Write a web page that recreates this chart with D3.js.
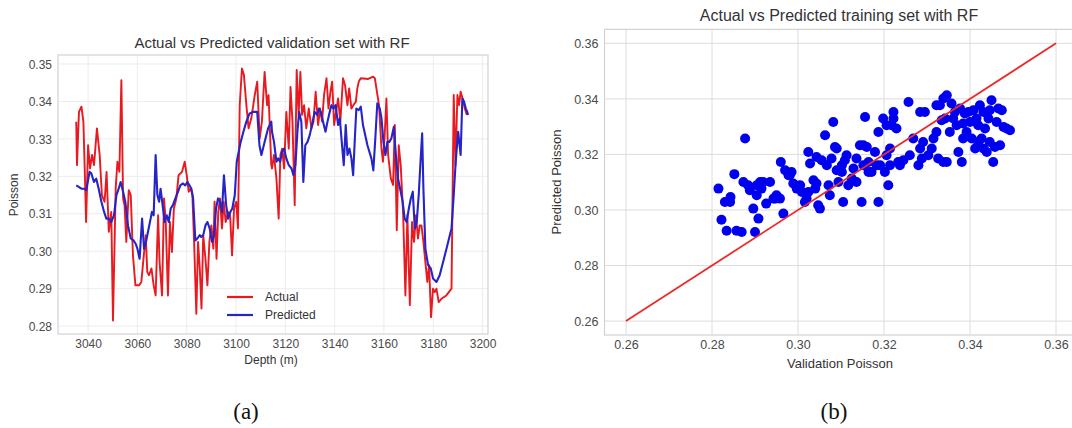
<!DOCTYPE html>
<html>
<head>
<meta charset="utf-8">
<script src="https://cdn.jsdelivr.net/npm/d3@7"></script>
<style>
  body { margin: 0; background: #fff; }
  svg { display: block; font-family: "Liberation Sans", Arial, sans-serif; }
</style>
</head>
<body>
<svg id="fig" width="1072" height="428"></svg>
<script>
// (a) validation set, actual vs predicted along depth
const actualDepth = [3035.2,3035.5,3036.3,3037.3,3038.1,3038.6,3039.2,3040.0,3040.8,3041.6,3042.4,3043.6,3044.7,3045.6,3046.7,3047.5,3048.4,3049.4,3050.1,3051.2,3051.9,3052.7,3053.5,3054.2,3054.8,3055.5,3056.5,3057.3,3058.2,3059.2,3060.7,3061.6,3062.6,3063.4,3064.0,3064.7,3065.7,3066.6,3067.4,3068.4,3069.0,3070.0,3070.8,3071.5,3072.4,3073.2,3074.0,3074.8,3075.8,3076.7,3078.1,3079.2,3080.0,3080.8,3081.6,3082.3,3083.0,3083.9,3084.6,3085.3,3086.0,3086.7,3087.6,3088.4,3089.2,3090.0,3090.8,3091.3,3092.1,3092.8,3093.5,3094.3,3095.0,3095.8,3096.8,3097.6,3098.4,3099.2,3100.1,3100.8,3101.5,3102.4,3103.2,3104.2,3105.1,3106.2,3107.6,3108.6,3109.6,3110.5,3111.6,3112.6,3113.2,3114.3,3114.6,3115.4,3116.4,3117.3,3118.0,3118.7,3119.5,3120.4,3121.4,3122.1,3122.9,3123.8,3124.6,3125.4,3126.1,3126.8,3127.6,3128.5,3129.5,3130.6,3131.4,3132.3,3133.3,3134.1,3134.9,3135.7,3136.7,3137.5,3138.3,3139.0,3139.8,3140.4,3141.4,3142.3,3143.4,3144.2,3145.2,3145.9,3146.8,3147.6,3148.6,3149.2,3149.8,3150.6,3153.6,3155.6,3156.3,3158.0,3159.0,3159.6,3160.3,3161.0,3161.7,3162.8,3163.7,3164.4,3165.2,3166.0,3166.8,3167.8,3168.7,3169.5,3170.5,3171.4,3172.2,3173.0,3173.8,3174.5,3175.2,3176.0,3176.8,3177.6,3178.3,3179.1,3179.9,3180.6,3181.3,3182.2,3183.3,3185.3,3187.4,3188.3,3189.0,3189.8,3190.5,3191.1,3191.9,3192.8,3193.6];
const actualPoisson = [0.3346,0.3230,0.3372,0.3386,0.3346,0.3230,0.3078,0.3283,0.3221,0.3257,0.3230,0.3328,0.3257,0.3150,0.3132,0.3212,0.3052,0.3105,0.2815,0.3168,0.3239,0.3212,0.3457,0.3141,0.3123,0.3025,0.3163,0.3150,0.2989,0.2909,0.2909,0.2918,0.2989,0.3043,0.2945,0.2936,0.2954,0.2909,0.2882,0.3096,0.2971,0.2882,0.3141,0.3078,0.2882,0.3078,0.2998,0.3114,0.3141,0.3203,0.3212,0.3239,0.3203,0.3159,0.3168,0.3150,0.3025,0.2833,0.3025,0.2954,0.2847,0.3043,0.2980,0.2909,0.3025,0.3069,0.3007,0.3132,0.2980,0.3105,0.3141,0.3061,0.3132,0.3078,0.3105,0.3096,0.2989,0.3114,0.3132,0.3061,0.3390,0.3488,0.3471,0.3390,0.3328,0.3355,0.3417,0.3453,0.3301,0.3346,0.3479,0.3390,0.3417,0.3230,0.3221,0.3257,0.3194,0.3087,0.3257,0.3274,0.3221,0.3372,0.3274,0.3439,0.3346,0.3123,0.3484,0.3364,0.3479,0.3364,0.3390,0.3328,0.3381,0.3328,0.3346,0.3426,0.3337,0.3381,0.3346,0.3417,0.3462,0.3381,0.3426,0.3453,0.3337,0.3364,0.3408,0.3346,0.3462,0.3444,0.3390,0.3435,0.3381,0.3390,0.3399,0.3435,0.3453,0.3462,0.3460,0.3466,0.3462,0.3390,0.3274,0.3239,0.3310,0.3408,0.3257,0.3194,0.3177,0.3337,0.3056,0.3283,0.3230,0.3096,0.2882,0.3096,0.2856,0.3078,0.3025,0.3096,0.3034,0.3069,0.3069,0.3025,0.2971,0.2918,0.2963,0.2824,0.2900,0.2891,0.2900,0.2864,0.2873,0.2882,0.2900,0.3417,0.3230,0.3417,0.3390,0.3426,0.3408,0.3381,0.3364];

const predDepth = [3035.2,3036.2,3037.3,3038.3,3039.3,3040.6,3041.3,3042.4,3043.3,3044.3,3045.4,3046.5,3047.4,3048.4,3049.4,3050.5,3051.5,3052.4,3053.2,3054.2,3055.1,3056.2,3057.3,3058.4,3059.3,3060.0,3060.9,3061.9,3062.7,3063.5,3064.3,3065.1,3065.9,3066.6,3067.4,3068.1,3068.8,3069.4,3070.4,3071.1,3071.9,3072.7,3073.5,3074.4,3075.4,3076.5,3077.4,3078.5,3079.4,3080.3,3081.1,3081.9,3082.6,3083.5,3084.3,3085.3,3085.9,3086.7,3087.6,3088.4,3089.3,3090.3,3091.1,3091.9,3092.7,3093.5,3094.3,3095.1,3096.0,3096.8,3097.7,3098.5,3099.5,3100.3,3101.1,3101.9,3103.0,3104.2,3105.5,3106.9,3108.6,3109.5,3110.3,3111.6,3113.0,3114.3,3114.6,3115.4,3116.4,3117.1,3117.9,3118.7,3119.5,3120.4,3121.4,3122.5,3123.3,3124.1,3124.9,3125.6,3126.5,3127.3,3128.1,3129.0,3129.9,3130.8,3131.9,3132.9,3133.6,3134.4,3135.3,3136.3,3137.1,3138.0,3138.7,3139.5,3140.4,3141.4,3142.1,3143.0,3143.7,3144.5,3145.2,3146.0,3146.8,3147.5,3148.2,3148.8,3149.8,3150.6,3151.5,3153.3,3154.9,3155.7,3156.5,3157.3,3158.3,3159.0,3159.8,3160.6,3161.4,3162.2,3163.0,3164.0,3164.6,3165.7,3166.8,3167.6,3168.4,3169.2,3170.1,3170.9,3171.7,3172.5,3173.3,3174.1,3174.9,3175.5,3176.0,3176.8,3177.9,3179.0,3179.9,3181.3,3182.6,3184.7,3187.4,3188.3,3189.1,3190.1,3191.1,3191.8,3192.5,3193.2,3193.8,3194.1];
const predPoisson = [0.3176,0.3172,0.3167,0.3167,0.3163,0.3212,0.3208,0.3185,0.3194,0.3167,0.3132,0.3105,0.3087,0.3087,0.3078,0.3096,0.3150,0.3167,0.3185,0.3159,0.3132,0.3069,0.3034,0.3029,0.3020,0.3007,0.2980,0.3087,0.3007,0.3025,0.3052,0.3078,0.3105,0.3096,0.3257,0.3150,0.3132,0.3167,0.3114,0.3078,0.3096,0.3078,0.3114,0.3123,0.3141,0.3159,0.3176,0.3181,0.3176,0.3185,0.3176,0.3167,0.3141,0.3029,0.3034,0.3043,0.3038,0.3043,0.3069,0.3078,0.3061,0.3025,0.3043,0.3114,0.3141,0.3132,0.3105,0.3203,0.3123,0.3087,0.3105,0.3114,0.3150,0.3239,0.3266,0.3292,0.3319,0.3346,0.3368,0.3372,0.3372,0.3283,0.3257,0.3292,0.3328,0.3346,0.3319,0.3292,0.3239,0.3248,0.3239,0.3266,0.3274,0.3248,0.3230,0.3221,0.3203,0.3230,0.3319,0.3372,0.3346,0.3185,0.3283,0.3292,0.3310,0.3337,0.3372,0.3364,0.3381,0.3372,0.3346,0.3319,0.3346,0.3372,0.3390,0.3381,0.3390,0.3337,0.3355,0.3283,0.3230,0.3337,0.3257,0.3274,0.3248,0.3203,0.3301,0.3381,0.3377,0.3386,0.3337,0.3283,0.3248,0.3216,0.3301,0.3395,0.3381,0.3355,0.3292,0.3257,0.3292,0.3292,0.3301,0.3332,0.3274,0.3194,0.3159,0.3132,0.3087,0.3078,0.3114,0.3141,0.3159,0.3061,0.3078,0.3150,0.3248,0.3315,0.3168,0.3007,0.2963,0.2954,0.2927,0.2918,0.2936,0.2989,0.3061,0.3150,0.3239,0.3319,0.3257,0.3408,0.3399,0.3381,0.3372,0.3364];

const depthTicks = [3040, 3060, 3080, 3100, 3120, 3140, 3160, 3180, 3200];
const poissonTicksA = [0.28, 0.29, 0.30, 0.31, 0.32, 0.33, 0.34, 0.35];

// (b) scatter of validation vs predicted
const validationX = [0.2815,0.2822,0.2834,0.2830,0.2843,0.2852,0.2857,0.2869,0.2877,0.2873,0.2884,0.2900,0.2896,0.2904,0.2908,0.2912,0.2919,0.2926,0.2935,0.2947,0.2958,0.2960,0.2966,0.2970,0.2978,0.2985,0.2989,0.2997,0.3009,0.3016,0.3020,0.3024,0.3028,0.3036,0.3040,0.3047,0.3051,0.3043,0.3055,0.3063,0.3067,0.3071,0.3074,0.3078,0.3082,0.3086,0.3090,0.3094,0.3102,0.3105,0.3109,0.3113,0.3117,0.3125,0.3129,0.3136,0.3144,0.3148,0.3152,0.3156,0.3160,0.3164,0.3171,0.3179,0.3187,0.3187,0.3191,0.3198,0.3202,0.3206,0.3210,0.3214,0.3218,0.3222,0.3229,0.3233,0.3237,0.3245,0.3257,0.3260,0.3268,0.3280,0.3284,0.3288,0.3291,0.3295,0.3303,0.3311,0.3315,0.3322,0.3326,0.3330,0.3334,0.3338,0.3342,0.3346,0.3346,0.3353,0.3357,0.3361,0.3369,0.3373,0.3377,0.3381,0.3384,0.3388,0.3392,0.3400,0.3404,0.3408,0.3412,0.3415,0.3419,0.3423,0.3431,0.3435,0.3439,0.3443,0.3446,0.3450,0.3454,0.3458,0.3462,0.3466,0.3470,0.3474,0.3478,0.3485,0.3493,0.3446,0.3427,0.3338,0.3322,0.3396,0.3384,0.3102,0.3136,0.3024,0.3005,0.2950,0.2915,0.2888,0.2842,0.2904,0.3206,0.3222,0.3284,0.3152,0.3090,0.2981,0.3043,0.2943,0.3214,0.3183,0.3164,0.3431,0.3419,0.3365];
const predictedY = [0.3077,0.2965,0.2925,0.3029,0.3047,0.3129,0.2925,0.2921,0.3257,0.3101,0.3089,0.2921,0.3005,0.3053,0.2969,0.3101,0.3101,0.3023,0.3101,0.3041,0.3041,0.3173,0.2987,0.3143,0.3125,0.3137,0.3095,0.3077,0.3065,0.3029,0.3041,0.3209,0.3167,0.3107,0.3077,0.3017,0.3005,0.3191,0.3179,0.3269,0.3161,0.3089,0.3053,0.3185,0.3317,0.3227,0.3143,0.3101,0.3137,0.3029,0.3179,0.3197,0.3089,0.3113,0.3149,0.3101,0.3233,0.3029,0.3161,0.3335,0.3227,0.3173,0.3137,0.3209,0.3029,0.3281,0.3161,0.3329,0.3137,0.3197,0.3089,0.3221,0.3305,0.3353,0.3293,0.3173,0.3161,0.3179,0.3389,0.3197,0.3257,0.3161,0.3221,0.3185,0.3245,0.3353,0.3197,0.3221,0.3257,0.3281,0.3185,0.3377,0.3323,0.3173,0.3329,0.3413,0.3173,0.3281,0.3383,0.3329,0.3305,0.3209,0.3365,0.3173,0.3257,0.3347,0.3281,0.3317,0.3257,0.3359,0.3221,0.3329,0.3245,0.3377,0.3353,0.3293,0.3209,0.3329,0.3245,0.3395,0.3173,0.3227,0.3317,0.3365,0.3233,0.3359,0.3299,0.3293,0.3287,0.3359,0.3257,0.3401,0.3377,0.3353,0.3311,0.3161,0.3185,0.3065,0.3089,0.3053,0.3077,0.3071,0.3029,0.3089,0.3305,0.3329,0.3353,0.3233,0.3221,0.3125,0.3095,0.3041,0.3161,0.3161,0.3137,0.3221,0.3305,0.3353];
const identityLine = [0.26, 0.36];
const poissonTicksB = [0.26, 0.28, 0.30, 0.32, 0.34, 0.36];

const svg = d3.select("#fig");
svg.append("rect").attr("width", 1072).attr("height", 428).attr("fill", "#fff");

const tickColor = "#4a4a4a";
const frameColor = "#d2d2d2";

function drawFrame(g, x, y, xTicks, yTicks, fmtX, fmtY, grid, fs) {
    let [x0, x1] = x.range();
    let [y0, y1] = y.range();
    g.append("g").selectAll("line").data(xTicks).join("line")
        .attr("x1", d => x(d)).attr("x2", d => x(d))
        .attr("y1", y1).attr("y2", y0)
        .attr("stroke", grid).attr("stroke-width", 1);
    g.append("g").selectAll("line").data(yTicks).join("line")
        .attr("x1", x0).attr("x2", x1)
        .attr("y1", d => y(d)).attr("y2", d => y(d))
        .attr("stroke", grid).attr("stroke-width", 1);

    let xAxis = d3.axisBottom(x).tickValues(xTicks).tickFormat(fmtX).tickSize(0).tickPadding(0);
    let yAxis = d3.axisLeft(y).tickValues(yTicks).tickFormat(fmtY).tickSize(0).tickPadding(0);
    let gx = g.append("g").attr("transform", `translate(0,${y0})`).call(xAxis);
    let gy = g.append("g").attr("transform", `translate(${x0},0)`).call(yAxis);
    [gx, gy].forEach(a => {
        a.select(".domain").remove();
        a.selectAll("text").attr("fill", tickColor).attr("font-size", fs)
            .attr("font-family", "Liberation Sans, Arial, sans-serif");
    });
    gx.selectAll("text").attr("dy", "0").attr("y", 14);
    gy.selectAll("text").attr("x", -6).attr("dy", "0.35em");

    g.append("rect")
        .attr("x", x0).attr("y", y1)
        .attr("width", x1 - x0).attr("height", y0 - y1)
        .attr("fill", "none").attr("stroke", frameColor).attr("stroke-width", 1.2);
}

// ---------- panel (a) ----------
{
    let x = d3.scaleLinear().domain([3027.8, 3202.2]).range([58, 488]);
    let y = d3.scaleLinear().domain([0.2779, 0.3524]).range([334, 55]);
    let g = svg.append("g");
    drawFrame(g, x, y, depthTicks, poissonTicksA, d3.format("d"), d3.format(".2f"), "#ececec", 12);

    let actual = actualDepth.map((d, i) => [d, actualPoisson[i]]);
    let pred = predDepth.map((d, i) => [d, predPoisson[i]]);
    let line = d3.line().x(d => x(d[0])).y(d => y(d[1]));

    g.append("path").datum(actual).attr("d", line)
        .attr("fill", "none").attr("stroke", "#e8191f").attr("stroke-width", 1.9)
        .attr("stroke-linejoin", "round");
    g.append("path").datum(pred).attr("d", line)
        .attr("fill", "none").attr("stroke", "#2424c8").attr("stroke-width", 2.1)
        .attr("stroke-linejoin", "round");

    // legend
    let leg = g.append("g").attr("transform", "translate(227,297)");
    [["Actual", "#e8191f"], ["Predicted", "#2424c8"]].forEach((s, i) => {
        leg.append("line").attr("x1", 0).attr("x2", 26)
            .attr("y1", i * 18).attr("y2", i * 18)
            .attr("stroke", s[1]).attr("stroke-width", 2.2);
        leg.append("text").attr("x", 38).attr("y", i * 18 + 4)
            .attr("font-size", 12).attr("fill", "#333").text(s[0]);
    });

    g.append("text").attr("x", 272).attr("y", 48).attr("text-anchor", "middle")
        .attr("font-size", 15).attr("fill", "#333")
        .text("Actual vs Predicted validation set with RF");
    g.append("text").attr("x", 271).attr("y", 364).attr("text-anchor", "middle")
        .attr("font-size", 12).attr("fill", "#333").text("Depth (m)");
    g.append("text").attr("transform", "translate(18,195) rotate(-90)")
        .attr("text-anchor", "middle").attr("font-size", 12).attr("fill", "#333")
        .text("Poisson");
}

// ---------- panel (b) ----------
{
    let x = d3.scaleLinear().domain([0.255, 0.365]).range([604.5, 1077.5]);
    let y = d3.scaleLinear().domain([0.255, 0.365]).range([335, 29.4]);
    let g = svg.append("g");
    drawFrame(g, x, y, poissonTicksB, poissonTicksB, d3.format(".2f"), d3.format(".2f"), "#dcdcdc", 12.5);

    g.append("g").selectAll("circle").data(validationX).join("circle")
        .attr("cx", d => x(d))
        .attr("cy", (d, i) => y(predictedY[i]))
        .attr("r", 5)
        .attr("fill", "#0000f0");

    g.append("line")
        .attr("x1", x(identityLine[0])).attr("y1", y(identityLine[0]))
        .attr("x2", x(identityLine[1])).attr("y2", y(identityLine[1]))
        .attr("stroke", "#ec2a2a").attr("stroke-width", 1.8);

    g.append("text").attr("x", 839).attr("y", 21).attr("text-anchor", "middle")
        .attr("font-size", 16).attr("fill", "#333")
        .text("Actual vs Predicted training set with RF");
    g.append("text").attr("x", 840).attr("y", 368).attr("text-anchor", "middle")
        .attr("font-size", 13).attr("fill", "#333").text("Validation Poisson");
    g.append("text").attr("transform", "translate(561,182) rotate(-90)")
        .attr("text-anchor", "middle").attr("font-size", 13).attr("fill", "#333")
        .text("Predicted Poisson");
}

// captions
svg.append("text").attr("x", 246).attr("y", 419).attr("text-anchor", "middle")
    .attr("font-family", "Liberation Serif, Times New Roman, serif")
    .attr("font-size", 23).attr("fill", "#111").text("(a)");
svg.append("text").attr("x", 834).attr("y", 419).attr("text-anchor", "middle")
    .attr("font-family", "Liberation Serif, Times New Roman, serif")
    .attr("font-size", 23).attr("fill", "#111").text("(b)");
</script>
</body>
</html>
